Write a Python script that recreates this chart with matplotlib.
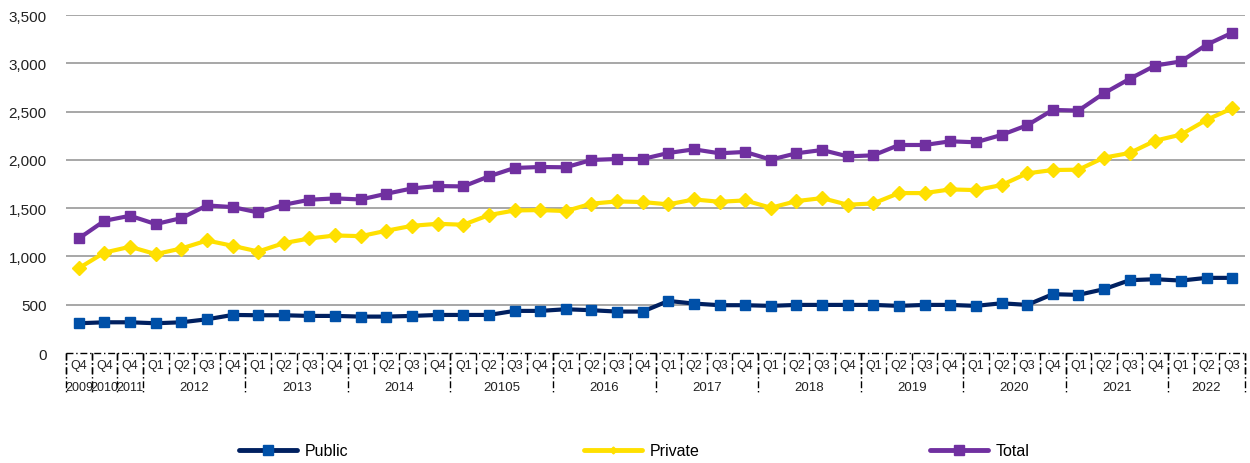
import matplotlib
matplotlib.use("Agg")
import matplotlib.pyplot as plt
import matplotlib.transforms as mtransforms
from matplotlib.lines import Line2D

plt.rcParams['font.family'] = ['Liberation Sans', 'DejaVu Sans']

quarters = ["Q4", "Q4", "Q4"] + ["Q1", "Q2", "Q3", "Q4"] * 10 + ["Q1", "Q2", "Q3"]
year_labels = ["2009", "2010", "2011", "2012", "2013", "2014", "20105", "2016",
               "2017", "2018", "2019", "2020", "2021", "2022"]
year_sizes = [1, 1, 1, 4, 4, 4, 4, 4, 4, 4, 4, 4, 4, 3]

public = [308, 318, 318, 308, 318, 349, 394, 391, 391, 384, 384, 377, 377, 384,
          394, 394, 394, 436, 436, 453, 443, 429, 429, 539, 512, 495, 495, 488,
          498, 498, 498, 498, 488, 498, 498, 488, 515, 498, 609, 602, 661, 754,
          764, 750, 778, 778]
private = [878, 1040, 1100, 1024, 1082, 1165, 1110, 1051, 1138, 1186, 1217, 1210,
           1266, 1317, 1338, 1328, 1428, 1476, 1480, 1470, 1546, 1570, 1563, 1539,
           1590, 1566, 1580, 1504, 1573, 1604, 1535, 1549, 1656, 1656, 1694, 1687,
           1739, 1860, 1895, 1898, 2023, 2071, 2199, 2261, 2414, 2534]
total = [1186, 1369, 1421, 1335, 1397, 1528, 1511, 1455, 1535, 1587, 1601, 1590,
         1649, 1704, 1729, 1725, 1829, 1916, 1926, 1923, 1999, 2009, 2009, 2071,
         2109, 2068, 2082, 2002, 2068, 2102, 2036, 2047, 2154, 2154, 2192, 2182,
         2258, 2358, 2517, 2510, 2690, 2839, 2977, 3019, 3192, 3316]
yticks = [0, 500, 1000, 1500, 2000, 2500, 3000, 3500]

W, H = 1250, 464
fig = plt.figure(figsize=(W / 100, H / 100), dpi=100)
ax_l, ax_r, ax_t, ax_b = 66, 1245, 16, 354
ax = fig.add_axes([ax_l / W, 1 - ax_b / H, (ax_r - ax_l) / W, (ax_b - ax_t) / H])
ax_h = ax_b - ax_t

n = len(quarters)
x = list(range(n))

c_pub_line = "#002060"
c_pub_mark = "#0050A8"
c_priv = "#FFE000"
c_tot = "#7030A0"

l_pub, = ax.plot(x, public, color=c_pub_line, lw=3, marker="s", ms=7.5,
                 mfc=c_pub_mark, mec=c_pub_mark, zorder=5)
l_priv, = ax.plot(x, private, color=c_priv, lw=3, marker="D", ms=7,
                  mfc=c_priv, mec=c_priv, zorder=5)
l_tot, = ax.plot(x, total, color=c_tot, lw=3, marker="s", ms=7.5,
                 mfc=c_tot, mec=c_tot, zorder=5)

ax.set_xlim(-0.5, n - 0.5)
ax.set_ylim(0, 3500)
ax.set_yticks(yticks)
ax.set_yticklabels([f"{v:,}" for v in yticks], fontsize=11, color="#222222")
ax.tick_params(axis="y", length=0, pad=14)
ax.set_xticks([])
for s in ax.spines.values():
    s.set_visible(False)
for v in yticks[1:]:
    ax.axhline(v, color="#A0A0A0", lw=1.3, zorder=1)

dash = (0, (5, 2, 1, 2))
trans = mtransforms.blended_transform_factory(ax.transData, ax.transAxes)
# axis line at zero
ax.plot([-0.5, n - 0.5], [0, 0], transform=trans, color="black", lw=1,
        linestyle=dash, clip_on=False, zorder=6)

q_sep = -21 / ax_h
y_sep = -41 / ax_h
q_lab = -12 / ax_h
y_lab = -34 / ax_h

# quarter labels and separators
for i, q in enumerate(quarters):
    ax.text(i, q_lab, q, transform=trans, ha="center", va="center",
            fontsize=9, color="#222222")
for i in range(n + 1):
    ax.plot([i - 0.5, i - 0.5], [0, q_sep], transform=trans, color="black",
            lw=1, linestyle=dash, clip_on=False)

# year labels and separators
start = 0
bounds = [0]
for lab, sz in zip(year_labels, year_sizes):
    center = start + (sz - 1) / 2
    fs = 9.5 if sz > 1 else 9
    ax.text(center, y_lab, lab, transform=trans, ha="center", va="center",
            fontsize=fs, color="#222222")
    start += sz
    bounds.append(start)
for b in bounds:
    ax.plot([b - 0.5, b - 0.5], [0, y_sep], transform=trans, color="black",
            lw=1, linestyle=dash, clip_on=False)

# legend entries
leg_y = 1 - 452 / H
for handle, label, xpos, lms in [(l_pub, "Public", 239, 6.5),
                                 (l_priv, "Private", 584, 3.5),
                                 (l_tot, "Total", 930, 6.5)]:
    h = Line2D([], [], color=handle.get_color(), lw=3.5,
               marker=handle.get_marker(), ms=lms, mfc=handle.get_mfc(),
               mec=handle.get_mec(), solid_capstyle="round")
    fig.legend([h], [label], loc="center left", bbox_to_anchor=(xpos / W, leg_y),
               frameon=False, fontsize=11.5, handlelength=3.6, handletextpad=0.5,
               borderpad=0, borderaxespad=0)

fig.savefig("out.png", dpi=100)
